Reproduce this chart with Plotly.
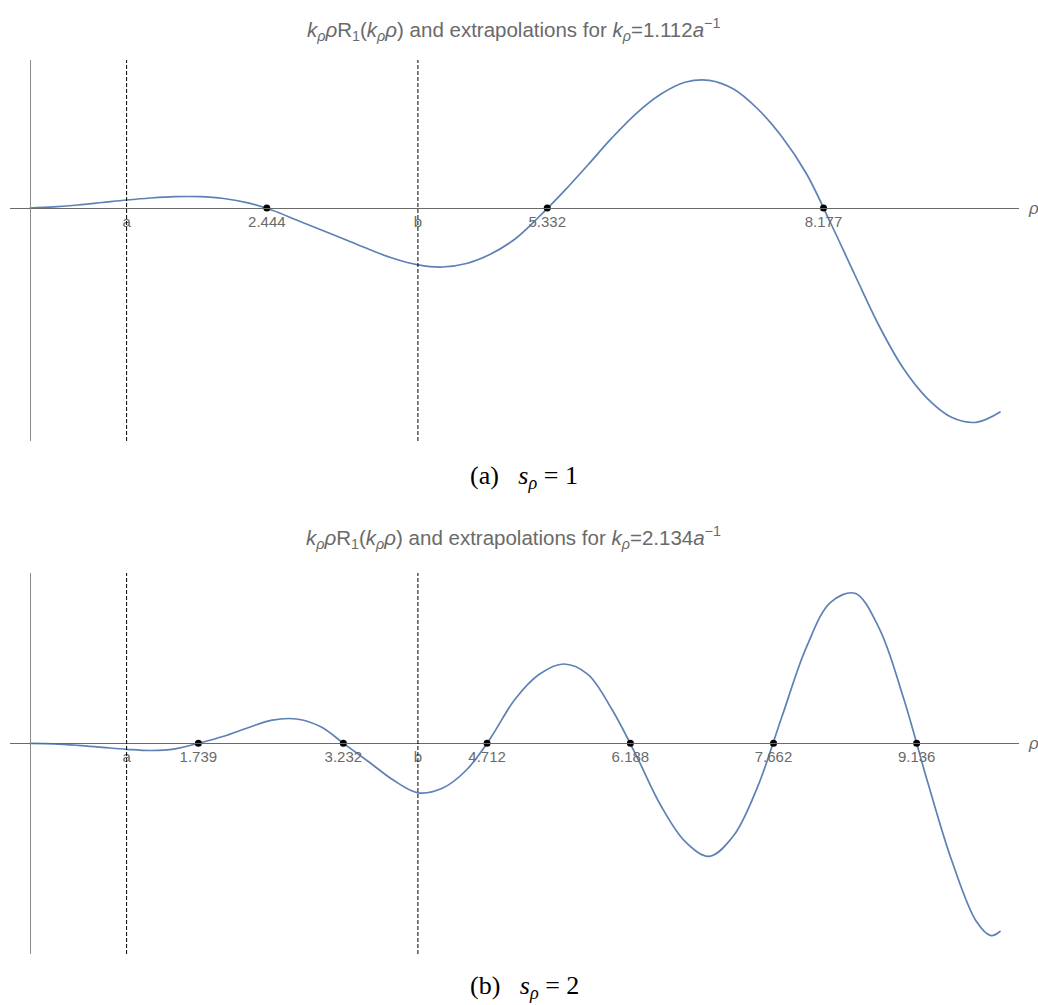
import plotly.graph_objects as go

# Radial profile k_rho * rho * R_1(k_rho * rho), two radial wavenumbers
rho_a = [0, 0.25, 0.5, 0.75, 1.0, 1.25, 1.5, 1.75, 2.0, 2.25, 2.5, 2.75, 3.0, 3.25,
         3.5, 3.75, 4.0, 4.25, 4.5, 4.75, 5.0, 5.25, 5.5, 5.75, 6.0, 6.25, 6.5,
         6.75, 7.0, 7.25, 7.5, 7.75, 8.0, 8.25, 8.5, 8.75, 9.0, 9.25, 9.5,
         9.75, 10.0]
val_a = [0, 0.012, 0.03, 0.055, 0.08, 0.10, 0.113, 0.113, 0.095, 0.052, -0.022, -0.12,
         -0.218, -0.315, -0.415, -0.505, -0.568, -0.59, -0.555, -0.46, -0.31, -0.085,
         0.163, 0.43, 0.703, 0.947, 1.137, 1.257, 1.277, 1.19, 0.99, 0.71,
         0.345, -0.15, -0.67, -1.18, -1.605, -1.908, -2.095, -2.143, -2.037]

rho_b = [0, 0.25, 0.5, 0.75, 1.0, 1.25, 1.5, 1.75, 2.0, 2.25, 2.5, 2.75, 3.0, 3.25,
         3.5, 3.75, 4.0, 4.25, 4.5, 4.75, 5.0, 5.25, 5.5, 5.75, 6.0, 6.25,
         6.5, 6.75, 7.0, 7.25, 7.5, 7.75, 8.0, 8.25, 8.5, 8.75, 9.0,
         9.25, 9.5, 9.75, 9.9, 10.0]
val_b = [0, -0.005, -0.02, -0.04, -0.06, -0.072, -0.055, 0.003, 0.07, 0.155, 0.232,
         0.243, 0.165, -0.013, -0.19, -0.37, -0.495, -0.45, -0.267, 0.056, 0.44, 0.69,
         0.793, 0.69, 0.335, -0.125, -0.62, -0.98, -1.13, -0.925, -0.43, 0.27,
         0.96, 1.41, 1.50, 1.15, 0.455, -0.39, -1.18, -1.78, -1.923, -1.877]

# Zero crossings (extrapolated nodes) and the shell boundaries a, b
zeros_a = [2.444, 5.332, 8.177]
zeros_b = [1.739, 3.232, 4.712, 6.188, 7.662, 9.136]
bounds = [1.0, 4.0]
bound_labels = ["a", "b"]

k_values = ["1.112", "2.134"]
captions = ["(a)", "(b)"]
s_values = ["1", "2"]

CURVE = "#5E81B5"
AXIS = "#6a6a6a"
LABEL = "#6a6a6a"

W, H = 1038, 1005
fig = go.Figure()

# panel geometry in paper fractions
x_dom = [10 / W, 1019 / W]
x_rng = [-0.2008, 10.190]
panels = [
    dict(rho=rho_a, val=val_a, zeros=zeros_a, ydom=[1 - 441 / H, 1 - 60 / H],
         yrng=[-2.33, 1.48], axis_y=1 - 208 / H, title_y=1 - 30 / H,
         cap_y=1 - 477 / H),
    dict(rho=rho_b, val=val_b, zeros=zeros_b, ydom=[1 - 954 / H, 1 - 573 / H],
         yrng=[-2.107, 1.703], axis_y=1 - 743.3 / H, title_y=1 - 537 / H,
         cap_y=1 - 987 / H),
]

for i, p in enumerate(panels):
    n = "" if i == 0 else str(i + 1)
    xa, ya = "x" + n, "y" + n
    fig.add_trace(go.Scatter(x=p["rho"], y=p["val"], mode="lines",
                             line=dict(color=CURVE, width=1.7, shape="spline", smoothing=1.0),
                             xaxis=xa, yaxis=ya, hoverinfo="skip", showlegend=False))
    fig.add_trace(go.Scatter(x=p["zeros"], y=[0] * len(p["zeros"]), mode="markers",
                             marker=dict(color="black", size=7),
                             xaxis=xa, yaxis=ya, hoverinfo="skip", showlegend=False))
    for b in bounds:
        fig.add_shape(type="line", xref=xa, yref="y" + n + " domain", x0=b, x1=b,
                      y0=0, y1=1, line=dict(color="black", width=1, dash="4px,2px"))

    tickvals = bounds + p["zeros"]
    ticktext = bound_labels + [f"{z:.3f}" for z in p["zeros"]]
    fig.update_layout({
        "xaxis" + n: dict(domain=x_dom, range=x_rng, anchor="free", position=p["axis_y"],
                          showline=True, linecolor=AXIS, linewidth=1, showgrid=False,
                          zeroline=False, ticks="", tickvals=tickvals, ticktext=ticktext,
                          tickfont=dict(family="Liberation Sans", size=15, color=LABEL)),
        "yaxis" + n: dict(domain=p["ydom"], range=p["yrng"], anchor="free",
                          position=30 / W, showline=True, linecolor="#8a8a8a", linewidth=1,
                          showgrid=False, zeroline=False, showticklabels=False, ticks=""),
    })

    title = ("<i>k</i><sub><i>ρ</i></sub><i>ρ</i>R<sub>1</sub>(<i>k</i><sub><i>ρ</i></sub>"
             "<i>ρ</i>) and extrapolations for <i>k</i><sub><i>ρ</i></sub>="
             f"{k_values[i]}<i>a</i><sup>−1</sup>")
    fig.add_annotation(text=title, xref="paper", yref="paper", x=513 / W, y=p["title_y"],
                       showarrow=False, xanchor="center", yanchor="middle",
                       font=dict(family="Liberation Sans", size=20.5, color=LABEL))
    fig.add_annotation(text="<i>ρ</i>", xref="paper", yref="paper", x=1033 / W,
                       y=p["axis_y"], showarrow=False, xanchor="center", yanchor="middle",
                       font=dict(family="Liberation Sans", size=17, color=LABEL))
    fig.add_annotation(text=(f"{captions[i]}&nbsp;&nbsp;&nbsp;<i>s</i><sub><i>ρ</i></sub>"
                             f"&nbsp;=&nbsp;{s_values[i]}"),
                       xref="paper", yref="paper", x=524 / W, y=p["cap_y"],
                       showarrow=False, xanchor="center", yanchor="middle",
                       font=dict(family="Liberation Serif", size=26, color="black"))

fig.update_layout(width=W, height=H, margin=dict(l=0, r=0, t=0, b=0),
                  paper_bgcolor="white", plot_bgcolor="white")

fig.write_html("out.html")
